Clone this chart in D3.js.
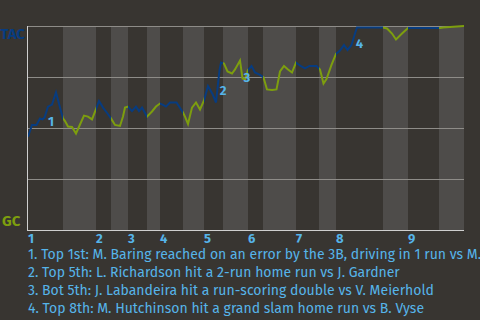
<!DOCTYPE html>
<html>
<head>
<meta charset="utf-8">
<script src="https://cdn.jsdelivr.net/npm/d3@7"></script>
<style>
  body { margin: 0; background: #383531; }
  svg { display: block; font-family: 'Fira Sans', 'Open Sans', sans-serif; }
</style>
</head>
<body>
<div id="chart"></div>
<script>
// half-inning boundaries (play index)
var halfInnings = [0, 8.75, 17, 20.75, 25, 29.75, 33, 38.75, 44, 48.75, 55, 58.75, 67, 72.75, 77, 88.75, 95, 102.75, 109];
var inningLabels = ['1', '2', '3', '4', '5', '6', '7', '8', '9'];

// TAC win probability by play
var plays = [0, 1, 2.125, 3, 3.625, 4.125, 5, 6, 7, 8, 8.75,
  9.25, 10, 11, 12, 13, 14, 15, 16, 17,
  17.75, 18.75, 19.875, 20.75,
  21.75, 23, 23.75, 24.25, 25,
  26, 27, 27.75, 28.5, 29.75,
  31, 32, 33,
  33.625, 34.5, 35.5, 37.125, 38.75,
  39.25, 40, 41, 42, 43, 44,
  45, 46.125, 47, 47.875, 48.25, 49,
  49.875, 51, 51.75, 53, 53.625, 54.25,
  55, 55.875, 56.75, 58, 58.875,
  59.75, 61, 62.125, 63, 64, 65, 66, 67,
  68.125, 69.25, 70.375, 72.125, 73,
  73.875, 74.625, 75.875, 77,
  78, 79, 79.875, 80.875, 81.75, 82.25, 88.75,
  89.75, 91, 92, 93.5, 94.875,
  95, 103,
  103.75, 109];
var winProb = [0.457, 0.515, 0.515, 0.547, 0.542, 0.551, 0.605, 0.615, 0.674, 0.6, 0.547,
  0.534, 0.507, 0.505, 0.473, 0.517, 0.561, 0.556, 0.542, 0.593,
  0.632, 0.6, 0.571, 0.547,
  0.515, 0.51, 0.556, 0.6, 0.605,
  0.583, 0.605, 0.583, 0.6, 0.556,
  0.581, 0.605, 0.62,
  0.615, 0.605, 0.625, 0.625, 0.576,
  0.556, 0.52, 0.6, 0.625, 0.591, 0.635,
  0.706, 0.667, 0.625, 0.784, 0.821, 0.816,
  0.777, 0.767, 0.787, 0.831, 0.743, 0.738,
  0.784, 0.804, 0.772, 0.76, 0.748,
  0.689, 0.686, 0.689, 0.777, 0.804, 0.787, 0.772, 0.821,
  0.804, 0.792, 0.804, 0.804, 0.787,
  0.718, 0.74, 0.809, 0.863,
  0.88, 0.907, 0.882, 0.907, 0.963, 0.993, 0.993,
  0.988, 0.963, 0.934, 0.963, 0.988,
  0.99, 0.99,
  0.993, 1];

// key plays
var notePlays = [5.75, 48.75, 54.75, 82.875];
var noteProbs = [0.534, 0.686, 0.75, 0.917];
var notes = [
  '1. Top 1st: M. Baring reached on an error by the 3B, driving in 1 run vs M.',
  '2. Top 5th: L. Richardson hit a 2-run home run vs J. Gardner',
  '3. Bot 5th: J. Labandeira hit a run-scoring double vs V. Meierhold',
  '4. Top 8th: M. Hutchinson hit a grand slam home run vs B. Vyse'
];

var width = 480;
var height = 320;
var margin = { top: 26, right: 16, bottom: 90, left: 28 };
var graphWidth = width - margin.left - margin.right;
var graphHeight = height - margin.top - margin.bottom;

var blue = '#073c80';
var green = '#7d9e0e';
var textBlue = '#56b4e9';

var svg = d3
  .select('#chart')
  .append('svg')
  .attr('width', width)
  .attr('height', height);

var graph = svg
  .append('g')
  .attr('transform', 'translate(' + margin.left + ',' + margin.top + ')');

var x = d3.scaleLinear().domain([0, 109]).range([0, graphWidth]);
var y = d3.scaleLinear().domain([0, 1]).range([graphHeight, 0]);

// half-inning bands
var bands = d3.pairs(halfInnings);
graph
  .selectAll('rect.band')
  .data(bands)
  .enter()
  .append('rect')
  .attr('class', 'band')
  .attr('x', d => x(d[0]))
  .attr('y', 0)
  .attr('width', d => x(d[1]) - x(d[0]))
  .attr('height', graphHeight)
  .attr('fill', (d, i) => (i % 2 ? '#4e4c4a' : '#383531'));

// grid
graph
  .selectAll('line.grid')
  .data([0.25, 0.5, 0.75, 1])
  .enter()
  .append('line')
  .attr('class', 'grid')
  .attr('x1', 0)
  .attr('x2', graphWidth)
  .attr('y1', d => Math.round(y(d)) + 0.5)
  .attr('y2', d => Math.round(y(d)) + 0.5)
  .attr('stroke', '#8e8c88')
  .attr('stroke-width', 1);

// axes
graph
  .append('line')
  .attr('x1', 0)
  .attr('x2', graphWidth)
  .attr('y1', graphHeight + 0.5)
  .attr('y2', graphHeight + 0.5)
  .attr('stroke', '#cfcfcf');
graph
  .append('line')
  .attr('x1', -0.5)
  .attr('x2', -0.5)
  .attr('y1', 0)
  .attr('y2', graphHeight + 1)
  .attr('stroke', '#cfcfcf');

// line, coloured by half-inning using clip paths
var points = plays.map((p, i) => [p, winProb[i]]);
var line = d3
  .line()
  .x(d => x(d[0]))
  .y(d => y(d[1]));

['top', 'bot'].forEach((half, h) => {
  var clip = svg
    .append('clipPath')
    .attr('id', 'clip-' + half);
  clip
    .selectAll('rect')
    .data(bands.filter((d, i) => i % 2 === h))
    .enter()
    .append('rect')
    .attr('x', d => x(d[0]))
    .attr('y', -10)
    .attr('width', d => x(d[1]) - x(d[0]))
    .attr('height', graphHeight + 20);

  graph
    .append('path')
    .datum(points)
    .attr('clip-path', 'url(#clip-' + half + ')')
    .attr('fill', 'none')
    .attr('stroke', h === 0 ? blue : green)
    .attr('stroke-width', 2)
    .attr('d', line);
});

// key play markers
graph
  .selectAll('text.note')
  .data(notePlays)
  .enter()
  .append('text')
  .attr('class', 'note')
  .attr('x', d => x(d))
  .attr('y', (d, i) => y(noteProbs[i]))
  .attr('dy', '0.36em')
  .attr('text-anchor', 'middle')
  .attr('fill', textBlue)
  .attr('font-size', 13)
  .attr('font-weight', 'bold')
  .text((d, i) => i + 1);

// inning labels
graph
  .selectAll('text.inning')
  .data(inningLabels)
  .enter()
  .append('text')
  .attr('class', 'inning')
  .attr('x', (d, i) => x(halfInnings[i * 2]))
  .attr('y', graphHeight + 12.5)
  .attr('fill', textBlue)
  .attr('font-size', 13)
  .attr('font-weight', 'bold')
  .text(d => d);

// team labels
svg
  .append('text')
  .attr('x', 25)
  .attr('y', 38.5)
  .attr('text-anchor', 'end')
  .attr('fill', blue)
  .attr('font-size', 15)
  .attr('font-weight', 'bold')
  .text('TAC');
svg
  .append('text')
  .attr('x', 2)
  .attr('y', 226)
  .attr('fill', green)
  .attr('font-size', 15)
  .attr('font-weight', 'bold')
  .text('GC');

// footnotes
svg
  .selectAll('text.footnote')
  .data(notes)
  .enter()
  .append('text')
  .attr('class', 'footnote')
  .attr('x', 28)
  .attr('y', (d, i) => 259 + i * 18)
  .attr('fill', textBlue)
  .attr('font-size', 14)
  .text(d => d);
</script>
</body>
</html>
